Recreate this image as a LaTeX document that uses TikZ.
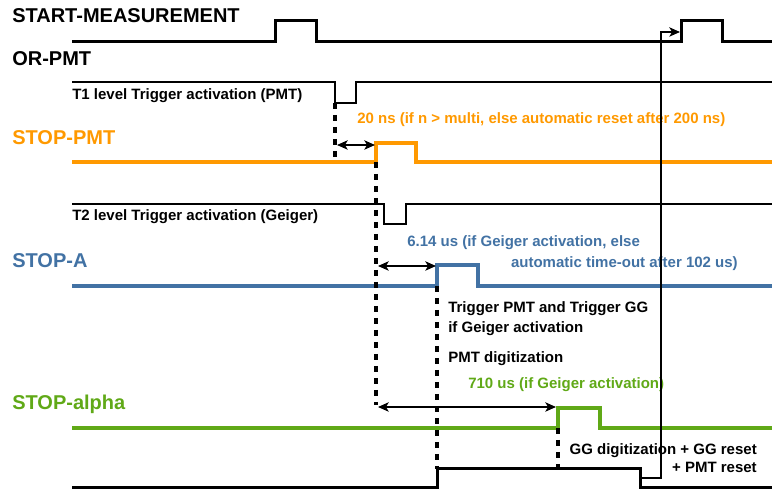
\documentclass[tikz,border=0pt]{standalone}
\usepackage{fontspec}
\setmainfont{Liberation Sans}
\usepackage{color}
\definecolor{stoporange}{RGB}{255,153,0}
\definecolor{stopblue}{RGB}{66,114,164}
\definecolor{stopgreen}{RGB}{96,169,23}
\newcommand{\drawpulse}[5][]{
    \draw[#1] (72,#2) -- (#3,#2) -- (#3,{#2+#5}) -- (#4,{#2+#5}) -- (#4,#2) -- (772,#2);
}
\usetikzlibrary{arrows.meta}
\tikzset{
    biglabel/.style={anchor=base west,inner sep=0pt,font=\fontsize{15}{18}\selectfont\bfseries},
    smalllabel/.style={anchor=base west,inner sep=0pt,font=\fontsize{11.25}{13.5}\selectfont\bfseries},
    sigline/.style={line width=2.25pt,line join=miter},
    thinsig/.style={line width=1.8pt,line join=miter},
    dotline/.style={line width=2.4pt,dash pattern=on 4.5pt off 4.5pt},
    gaparrow/.style={{Stealth[length=8pt,width=7pt,inset=2pt]}-{Stealth[length=8pt,width=7pt,inset=2pt]},line width=1pt},
    backarrow/.style={-{Stealth[length=8pt,width=7pt,inset=2pt]},line width=0.9pt}
}

\begin{document}
\begin{tikzpicture}[x=0.75pt,y=-0.75pt]
\useasboundingbox (0,0) rectangle (772,491);

\node[biglabel] (startlbl) at (12,23) {START-MEASUREMENT};
\node[biglabel] (orlbl) at (12,66) {OR-PMT};
\node[biglabel,text=stoporange] (pmtlbl) at (12,145) {STOP-PMT};
\node[biglabel,text=stopblue] (albl) at (12,268) {STOP-A};
\node[biglabel,text=stopgreen] (alphalbl) at (12,410) {STOP-alpha};

\draw[sigline] (72,42) -- (275,42) -- (275,21) -- (316,21) -- (316,42) -- (681,42) -- (681,21) -- (722,21) -- (722,42) -- (772,42);
\drawpulse[thinsig]{82}{335}{356}{21}
\drawpulse[sigline,line width=3pt,draw=stoporange]{162}{376}{416}{-19}
\drawpulse[thinsig]{204}{384}{406}{20}
\drawpulse[sigline,line width=3pt,draw=stopblue]{286}{437}{478}{-21}
\drawpulse[sigline,line width=3pt,draw=stopgreen]{428}{558}{600}{-20}
\drawpulse[sigline]{488}{437}{640}{-19}

\node[smalllabel] (t1lbl) at (72,100) {T1 level Trigger activation (PMT)};
\node[smalllabel] (t2lbl) at (72,221) {T2 level Trigger activation (Geiger)};
\node[smalllabel,text=stoporange] (nslbl) at (357,124) {20 ns (if n > multi, else automatic reset after 200 ns)};
\node[smalllabel,text=stopblue] (uslbl) at (407,247) {6.14 us (if Geiger activation, else};
\node[smalllabel,text=stopblue,anchor=base east] (timeoutlbl) at (738,268) {automatic time-out after 102 us)};
\node[smalllabel] (triglbl) at (448,313) {Trigger PMT and Trigger GG};
\node[smalllabel] (iflbl) at (448,333) {if Geiger activation};
\node[smalllabel] (digilbl) at (448,363) {PMT digitization};
\node[smalllabel,text=stopgreen] (alphagaplbl) at (468,389) {710 us (if Geiger activation)};
\node[smalllabel,anchor=base east] (gglbl) at (757,455) {GG digitization + GG reset};
\node[smalllabel,anchor=base east] (resetlbl) at (757,473) {+ PMT reset};

\coordinate (t1edge) at (335,103);
\coordinate (pmtrise) at (376,162);
\coordinate (arise) at (437,286);
\coordinate (alpharise) at (558,428);
\coordinate (lowend) at (640,478);
\coordinate (startrise) at (680,32);

\draw[dotline] (t1edge) -- (335,162);
\draw[dotline] (pmtrise) -- (376,405);
\draw[dotline] (arise) -- (437,469);
\draw[dotline] (alpharise) -- (558,469);

\draw[gaparrow] (337,145) -- (375,145);
\draw[gaparrow] (378,266) -- (436,266);
\draw[gaparrow] (378,407) -- (556,407);

\draw[backarrow] (lowend) -- (661,478) -- (661,32) -- (startrise);
\end{tikzpicture}
\end{document}
